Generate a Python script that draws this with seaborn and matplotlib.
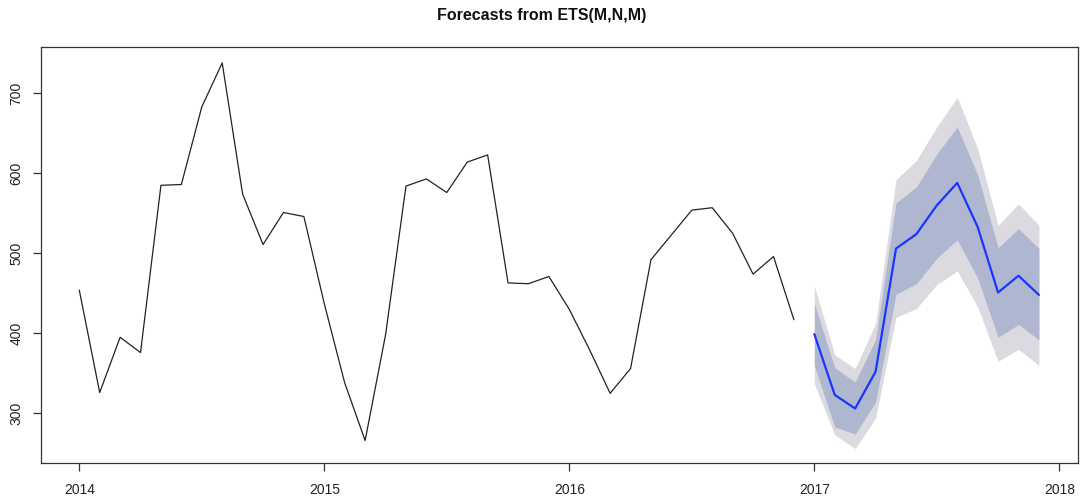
import numpy as np
import pandas as pd
import matplotlib
matplotlib.use("Agg")
import matplotlib.pyplot as plt
import seaborn as sns

# Monthly observations, Jan 2014 - Dec 2016
observed = [454, 326, 395, 376, 585, 586, 683, 738, 574, 511, 551, 546,
            437, 338, 266, 398, 584, 593, 576, 614, 623, 463, 462, 471,
            430, 379, 325, 356, 492, 523, 554, 557, 525, 474, 496, 417]

# ETS(M,N,M) point forecasts and prediction intervals, Jan - Dec 2017
forecast = [399, 323, 306, 352, 506, 524, 560, 588, 533, 451, 472, 448]
lo80 = [360, 283, 274, 314, 449, 462, 494, 517, 469, 395, 411, 392]
hi80 = [437, 357, 339, 392, 563, 583, 624, 658, 598, 507, 531, 506]
lo95 = [337, 273, 256, 294, 420, 431, 461, 478, 433, 365, 380, 360]
hi95 = [459, 373, 356, 412, 592, 616, 658, 695, 631, 535, 562, 535]

year_ticks = [2014, 2015, 2016, 2017, 2018]
title = "Forecasts from ETS(M,N,M)"

hist = pd.DataFrame({"t": 2014 + np.arange(len(observed)) / 12.0, "value": observed})
fc = pd.DataFrame({"t": 2017 + np.arange(len(forecast)) / 12.0, "mean": forecast,
                   "lo80": lo80, "hi80": hi80, "lo95": lo95, "hi95": hi95})

sns.set_theme(style="white")
plt.rcParams["font.family"] = ["Liberation Sans", "DejaVu Sans"]
plt.rcParams["xtick.bottom"] = True
plt.rcParams["ytick.left"] = True

fig = plt.figure(figsize=(10.84, 4.99), dpi=100)
ax = fig.add_axes([0.0381, 0.0715, 0.9561, 0.8337])

ax.fill_between(fc["t"], fc["lo95"], fc["hi95"], color="#dadae0", linewidth=0)
ax.fill_between(fc["t"], fc["lo80"], fc["hi80"], color="#afb6cf", linewidth=0)
sns.lineplot(data=hist, x="t", y="value", ax=ax, color="#222222", linewidth=0.9)
sns.lineplot(data=fc, x="t", y="mean", ax=ax, color="#1a35ff", linewidth=1.6)

ax.set_xlim(2013.845, 2018.075)
ax.set_ylim(237.5, 757.5)
ax.set_xticks(year_ticks)
ax.set_xticklabels([str(y) for y in year_ticks])
ax.set_yticks([300, 400, 500, 600, 700])
ax.set_yticklabels(["300", "400", "500", "600", "700"], rotation=90, va="center")
ax.set_xlabel("")
ax.set_ylabel("")

for side in ax.spines.values():
    side.set_visible(True)
    side.set_color("#333333")
    side.set_linewidth(0.9)

ax.tick_params(axis="both", which="both", direction="out", length=6, width=0.9,
               color="#333333", labelsize=10, labelcolor="#222222",
               bottom=True, left=True)
ax.tick_params(axis="x", pad=8)
ax.tick_params(axis="y", pad=7)

fig.text(0.5, 0.968, title, ha="center", va="center", fontsize=11.5,
         fontweight="bold", color="#111111")

fig.savefig("out.png", dpi=100, facecolor="white")
